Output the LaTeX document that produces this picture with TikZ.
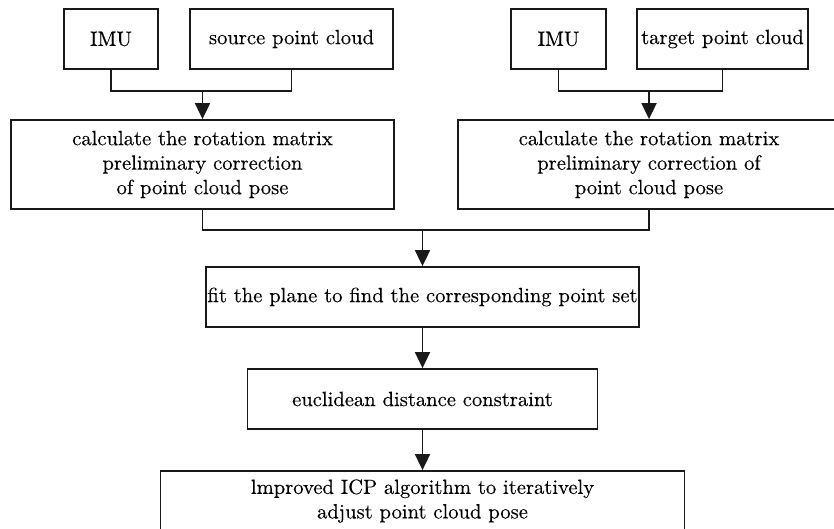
\documentclass[tikz,border=0pt]{standalone}
\usepackage{fontspec}
\newfontfamily\labelfont{lmroman10-regular}[Extension=.otf, FakeBold=0.25]
\usetikzlibrary{arrows.meta}
\begin{document}
\begin{tikzpicture}[x=1pt,y=-1pt,
  box/.style={draw=black!90, line width=1.8pt, inner sep=0pt, align=center,
    font=\labelfont\fontsize{20.6}{24.5}\selectfont},
  link/.style={draw=black!90, line width=1.8pt},
  flow/.style={link, -{Triangle[length=16pt,width=15pt]}}]
\useasboundingbox (0,0) rectangle (834,529);
\clip (0,0) rectangle (834,529);

% input boxes
\node[box, minimum width=94pt, minimum height=60pt] (imuL) at (111,39) {IMU};
\node[box, minimum width=203pt, minimum height=60pt] (srcL) at (291.5,39) {source point cloud};
\node[box, minimum width=95pt, minimum height=60pt] (imuR) at (558.5,39) {IMU};
\node[box, minimum width=171pt, minimum height=60pt] (tgtR) at (722.5,39) {target point cloud};

% pose pre-correction
\node[box, minimum width=383pt, minimum height=89pt] (calcL) at (202.5,164.5)
  {calculate the rotation matrix\\preliminary correction\\ of point cloud pose};
\node[box, minimum width=382pt, minimum height=89pt] (calcR) at (649,164.5)
  {calculate the rotation matrix\\preliminary correction of\\point cloud pose};

% main chain
\node[box, minimum width=433pt, minimum height=60pt] (fit) at (422.5,297)
  {fit the plane to find the corresponding point set};
\node[box, minimum width=350pt, minimum height=60pt] (euc) at (422.5,399)
  {euclidean distance constraint};
\node[box, minimum width=524pt, minimum height=60pt] (icp) at (422.5,501)
  {lmproved ICP algorithm to iteratively\\adjust point cloud pose};

% junctions
\coordinate (jL) at (202.5,91);
\coordinate (jR) at (649,91);
\coordinate (jM) at (422.5,230);

% connectors
\draw[link] (imuL.south) -- (imuL.south |- jL) -- (srcL.south |- jL) -- (srcL.south);
\draw[flow] (jL) -- (calcL.north);
\draw[link] (imuR.south) -- (imuR.south |- jR) -- (tgtR.south |- jR) -- (tgtR.south);
\draw[flow] (jR) -- (calcR.north);
\draw[link] (calcL.south) -- (calcL.south |- jM) -- (calcR.south |- jM) -- (calcR.south);
\draw[flow] (jM) -- (fit.north);
\draw[flow] (fit.south) -- (euc.north);
\draw[flow] (euc.south) -- (icp.north);
\end{tikzpicture}
\end{document}
